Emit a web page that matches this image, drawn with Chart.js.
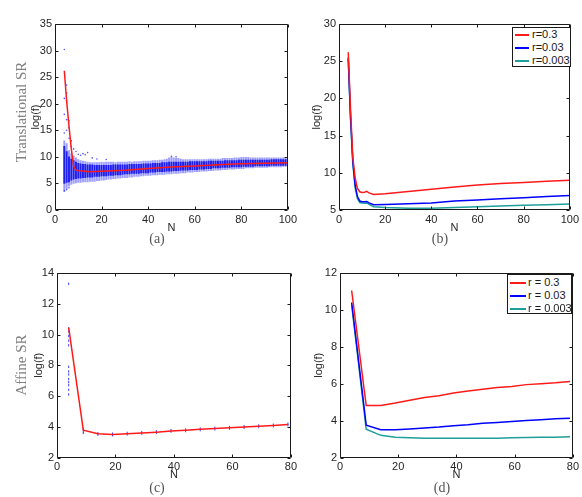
<!DOCTYPE html>
<html><head><meta charset="utf-8">
<script src="https://cdn.jsdelivr.net/npm/chart.js@4.4.1/dist/chart.umd.min.js"></script>
<style>
html,body{margin:0;padding:0;background:#fff;}
#wrap{position:relative;width:582px;height:497px;overflow:hidden;background:#fff;}
canvas{position:absolute;}
.cap{position:absolute;font-family:"Liberation Serif","Times New Roman",serif;font-size:14px;color:#555;transform:translate(-50%,-50%);white-space:nowrap;}
.row{position:absolute;font-family:"Liberation Serif","Times New Roman",serif;font-size:15px;color:#808080;transform:translate(-50%,-50%) rotate(-90deg);white-space:nowrap;}
.leg{position:absolute;border:1px solid #1a1a1a;background:#fff;font-family:"Liberation Sans",Arial,sans-serif;font-size:11px;color:#1a1a1a;box-sizing:border-box;}
.leg div{position:absolute;height:13px;line-height:13px;white-space:nowrap;}
.leg span.ln{position:absolute;top:6px;height:2px;}
</style></head>
<body><div id="wrap">
<canvas id="ca" width="300" height="236" style="left:0;top:0"></canvas>
<canvas id="cb" width="282" height="236" style="left:300px;top:0"></canvas>
<canvas id="cc" width="300" height="249" style="left:0;top:248px"></canvas>
<canvas id="cd" width="282" height="249" style="left:300px;top:248px"></canvas>
<div class="row" style="left:21px;top:112px">Translational SR</div>
<div class="row" style="left:21px;top:365px">Affine SR</div>
<div class="cap" style="left:157px;top:239px">(a)</div>
<div class="cap" style="left:440px;top:239px">(b)</div>
<div class="cap" style="left:157px;top:488px">(c)</div>
<div class="cap" style="left:442px;top:488px">(d)</div>
<div id="legb" class="leg" style="left:512px;top:27px;width:59px;height:40px"></div>
<div id="legd" class="leg" style="left:507px;top:274px;width:65px;height:40px"></div>
</div>
<script>
// ---------- Panel (a): Translational SR, scatter band + mean ----------
const aBandN = [4,5,6,7,8,9,10,11,12,13,14,15,16,17,18,19,20,21,22,23,24,25,26,27,28,29,30,31,32,33,34,35,36,37,38,39,40,41,42,43,44,45,46,47,48,49,50,51,52,53,54,55,56,57,58,59,60,61,62,63,64,65,66,67,68,69,70,71,72,73,74,75,76,77,78,79,80,81,82,83,84,85,86,87,88,89,90,91,92,93,94,95,96,97,98,99,100];
const aBandHigh = [13.0,12.5,11.2,10.6,10.2,9.8,9.5,9.3,9.2,9.1,9.0,8.9,8.9,8.9,8.9,8.9,9.0,8.9,9.0,9.0,9.0,9.0,8.9,9.0,9.0,9.0,9.0,9.0,9.1,9.0,9.1,9.1,9.1,9.1,9.2,9.2,9.2,9.2,9.3,9.3,9.3,9.4,9.4,9.5,9.6,9.8,9.9,9.8,9.7,9.7,9.6,9.5,9.5,9.5,9.5,9.5,9.5,9.5,9.5,9.5,9.5,9.5,9.6,9.6,9.6,9.6,9.6,9.6,9.7,9.7,9.7,9.7,9.7,9.8,9.8,9.8,9.9,9.9,9.9,9.9,9.8,9.8,9.8,9.8,9.8,9.8,9.8,9.8,9.8,9.8,9.8,9.8,9.8,9.8,9.8,9.8,9.8];
const aBandLow = [3.5,4.0,4.5,4.8,5.0,5.1,5.2,5.2,5.3,5.3,5.3,5.4,5.4,5.4,5.5,5.5,5.6,5.6,5.7,5.8,5.8,5.9,5.9,6.0,6.0,6.1,6.1,6.1,6.2,6.2,6.3,6.3,6.3,6.4,6.4,6.5,6.5,6.5,6.6,6.6,6.6,6.7,6.7,6.7,6.8,6.8,6.8,6.9,6.9,6.9,7.0,7.0,7.0,7.1,7.1,7.1,7.2,7.2,7.2,7.3,7.3,7.3,7.4,7.4,7.4,7.5,7.5,7.5,7.6,7.6,7.6,7.7,7.7,7.7,7.8,7.8,7.8,7.8,7.9,7.9,7.9,7.9,8.0,8.0,8.0,8.0,8.0,8.0,8.1,8.1,8.1,8.1,8.1,8.1,8.2,8.2,8.2];
const aCoreHigh = [12.0,11.0,10.0,9.6,9.3,9.0,8.8,8.7,8.6,8.6,8.5,8.5,8.5,8.4,8.4,8.4,8.4,8.4,8.4,8.4,8.4,8.5,8.5,8.5,8.5,8.5,8.5,8.5,8.6,8.6,8.6,8.6,8.6,8.6,8.7,8.7,8.7,8.7,8.8,8.8,8.8,8.8,8.9,8.9,8.9,9.0,9.0,9.0,9.0,9.0,9.0,9.0,9.0,9.0,9.1,9.1,9.1,9.1,9.1,9.1,9.1,9.1,9.2,9.2,9.2,9.2,9.2,9.2,9.2,9.3,9.3,9.3,9.3,9.3,9.3,9.4,9.4,9.4,9.4,9.4,9.4,9.4,9.4,9.4,9.4,9.4,9.4,9.4,9.4,9.5,9.5,9.5,9.5,9.5,9.5,9.5,9.5];
const aCoreLow = [5.0,5.2,5.3,5.6,5.8,5.9,6.0,6.0,6.1,6.1,6.2,6.2,6.2,6.3,6.3,6.3,6.4,6.4,6.4,6.5,6.5,6.5,6.6,6.6,6.6,6.7,6.8,6.8,6.8,6.9,6.9,6.9,6.9,7.0,7.0,7.0,7.0,7.1,7.1,7.1,7.2,7.2,7.2,7.2,7.3,7.3,7.3,7.4,7.4,7.4,7.5,7.5,7.5,7.5,7.6,7.6,7.6,7.6,7.7,7.7,7.7,7.8,7.8,7.8,7.9,7.9,7.9,7.9,8.0,8.0,8.0,8.0,8.1,8.1,8.1,8.1,8.1,8.2,8.2,8.2,8.2,8.2,8.3,8.3,8.3,8.3,8.3,8.3,8.3,8.4,8.4,8.4,8.4,8.4,8.4,8.4,8.4];
const aOutN = [4,5,5,5,4,4,5,6,6,5,4,6,7,7,8,9,10,11,12,13,14,16,18,22,6,5,4,50,52];
const aOutY = [30.2,23.5,22.0,20.5,21.0,18.0,17.0,16.8,15.5,15.0,14.5,13.5,13.0,12.0,11.5,11.0,10.5,10.3,10.6,10.4,10.8,9.8,9.6,9.5,4.2,3.8,3.6,10.1,10.0];
const aMeanN = [4,5,6,7,8,9,10,12,15,20,30,40,50,60,70,80,90,100];
const aMean = [26.2,20.5,15.8,11.5,8.2,7.5,7.4,7.35,7.2,7.3,7.5,7.8,8.1,8.3,8.5,8.7,8.8,8.9];

// ---------- Panel (b) ----------
const bN = [4,5,6,7,8,9,10,11,12,13,15,20,30,40,50,60,70,80,90,100];
const bLabels = ['r=0.3','r=0.03','r=0.003'];
const bRed  = [26.2,18.5,12.0,9.3,7.9,7.45,7.35,7.4,7.5,7.3,7.1,7.2,7.5,7.8,8.1,8.35,8.55,8.7,8.85,9.0];
const bBlue = [25.5,17.5,11.5,8.3,6.8,6.2,6.1,6.1,6.15,5.95,5.7,5.75,5.85,5.95,6.2,6.35,6.5,6.65,6.8,6.95];
const bTeal = [25.3,17.2,11.2,8.0,6.5,6.0,5.95,5.9,5.95,5.75,5.45,5.35,5.25,5.25,5.35,5.45,5.55,5.65,5.7,5.8];

// ---------- Panel (c): Affine SR ----------
const cN = [4,9,14,19,24,29,34,39,44,49,54,59,64,69,74,79];
const cMean = [10.45,3.78,3.55,3.5,3.55,3.6,3.65,3.72,3.77,3.83,3.88,3.93,3.98,4.03,4.08,4.15];
const cPtN = [4,4,4,4,4,4,4,4,4,4,4,4,4,4,9,9,9,14,14,19,19,24,24,29,29,34,34,39,39,44,44,49,49,54,54,59,59,64,64,69,69,74,74,79,79];
const cPtY = [13.3,10.4,10.2,9.9,9.6,9.3,7.9,7.6,7.4,7.1,6.9,6.7,6.4,6.1,3.6,3.7,3.85,3.48,3.58,3.45,3.55,3.5,3.6,3.55,3.65,3.6,3.7,3.68,3.78,3.72,3.82,3.78,3.88,3.83,3.93,3.88,3.98,3.93,4.03,3.98,4.08,4.03,4.13,4.1,4.2];

// ---------- Panel (d) ----------
const dN = [4,9,14,19,24,29,34,39,44,49,54,59,64,69,74,79];
const dLabels = ['r = 0.3','r = 0.03','r = 0.003'];
const dRed  = [11.05,4.82,4.82,4.95,5.1,5.25,5.35,5.5,5.6,5.7,5.8,5.85,5.95,6.0,6.05,6.12];
const dBlue = [10.4,3.75,3.5,3.5,3.55,3.6,3.65,3.72,3.77,3.85,3.9,3.95,4.0,4.05,4.1,4.13];
const dTeal = [10.3,3.53,3.2,3.1,3.07,3.05,3.05,3.05,3.05,3.05,3.05,3.07,3.08,3.1,3.1,3.12];

const RED = '#ff1a1a', BLUE = '#0000ff', TEAL = '#1f9f9a';
const FONT = {family:'"Liberation Sans", Arial, sans-serif', size:11};
const TXT = '#262626';

const zip = (xs, ys) => xs.map((x, i) => ({x, y: ys[i]}));
const zipRange = (xs, lo, hi) => xs.map((x, i) => ({x, y: [lo[i], hi[i]]}));

const framePlugin = {
  id: 'frame',
  afterDraw(chart) {
    const {ctx, chartArea: a, scales: {x, y}} = chart;
    const L = Math.round(a.left) + 0.5, R = Math.round(a.right) - 0.5;
    const T = Math.round(a.top) + 0.5, B = Math.round(a.bottom) - 0.5;
    ctx.save();
    ctx.strokeStyle = '#1a1a1a';
    ctx.lineWidth = 1;
    ctx.beginPath();
    ctx.rect(L, T, R - L, B - T);
    const k = 3;
    x.ticks.forEach(t => {
      const p = Math.round(x.getPixelForValue(t.value)) + 0.5;
      ctx.moveTo(p, B); ctx.lineTo(p, B - k);
      ctx.moveTo(p, T); ctx.lineTo(p, T + k);
    });
    y.ticks.forEach(t => {
      const p = Math.round(y.getPixelForValue(t.value)) + 0.5;
      ctx.moveTo(L, p); ctx.lineTo(L + k, p);
      ctx.moveTo(R, p); ctx.lineTo(R - k, p);
    });
    ctx.stroke();
    ctx.restore();
  }
};

function makeChart(id, datasets, g) {
  return new Chart(document.getElementById(id), {
    type: 'line',
    data: {datasets},
    options: {
      responsive: false, animation: false, devicePixelRatio: 1, events: [],
      layout: {padding: {left: g.padL, top: g.padT, right: g.padR, bottom: g.padB}},
      plugins: {legend: {display: false}, tooltip: {enabled: false}},
      scales: {
        x: {type: 'linear', min: g.xmin, max: g.xmax, offset: false,
            grid: {display: false, drawTicks: false}, border: {display: false},
            ticks: {stepSize: g.xstep, padding: 3, font: FONT, color: TXT, maxRotation: 0, autoSkip: false},
            title: {display: true, text: 'N', font: FONT, color: TXT, padding: 0},
            afterFit: s => { s.height = g.xh; }},
        y: {type: 'linear', min: g.ymin, max: g.ymax,
            grid: {display: false, drawTicks: false}, border: {display: false},
            ticks: {stepSize: g.ystep, padding: 3, font: FONT, color: TXT, autoSkip: false},
            title: {display: true, text: 'log(f)', font: FONT, color: TXT, padding: 0},
            afterFit: s => { s.width = g.yw; }}
      }
    },
    plugins: [framePlugin]
  });
}

const lineDs = (pts, color, order) => ({type: 'line', data: pts, borderColor: color, backgroundColor: color,
  borderWidth: 1.5, pointRadius: 0, tension: 0, fill: false, order});

// (a)
makeChart('ca', [
  lineDs(zip(aMeanN, aMean), RED, 0),
  {type: 'scatter', data: zip(aOutN, aOutY), pointRadius: 0.8, pointBorderWidth: 0, backgroundColor: 'rgba(40,40,255,0.8)', order: 1},
  {type: 'bar', data: zipRange(aBandN, aCoreLow, aCoreHigh), backgroundColor: 'rgba(10,10,235,0.85)', borderWidth: 0, barThickness: 1.3, grouped: false, order: 2},
  {type: 'bar', data: zipRange(aBandN, aBandLow, aBandHigh), backgroundColor: 'rgba(60,60,255,0.5)', borderWidth: 0, barThickness: 1.3, grouped: false, order: 3}
], {padL: 29, padT: 24, padR: 10, padB: 1, yw: 26, xh: 25, xmin: 0, xmax: 100, xstep: 20, ymin: 0, ymax: 35, ystep: 5});

// (b)
makeChart('cb', [
  lineDs(zip(bN, bTeal), TEAL, 2),
  lineDs(zip(bN, bBlue), BLUE, 1),
  lineDs(zip(bN, bRed), RED, 0)
], {padL: 10, padT: 24, padR: 9, padB: 1, yw: 29, xh: 25, xmin: 0, xmax: 100, xstep: 20, ymin: 5, ymax: 30, ystep: 5});

// (c)
makeChart('cc', [
  lineDs(zip(cN, cMean), RED, 0),
  {type: 'scatter', data: zip(cPtN, cPtY), pointStyle: 'line', rotation: 90, pointRadius: 1.2, borderWidth: 1, borderColor: 'rgba(30,30,255,0.85)', order: 1}
], {padL: 32, padT: 25, padR: 9, padB: 15, yw: 25, xh: 24.5, xmin: 0, xmax: 80, xstep: 20, ymin: 2, ymax: 14, ystep: 2});

// (d)
makeChart('cd', [
  lineDs(zip(dN, dTeal), TEAL, 2),
  lineDs(zip(dN, dBlue), BLUE, 1),
  lineDs(zip(dN, dRed), RED, 0)
], {padL: 12, padT: 25, padR: 8, padB: 15, yw: 28, xh: 24.5, xmin: 0, xmax: 80, xstep: 20, ymin: 2, ymax: 12, ystep: 2});

// HTML legends
function legend(id, labels, colors, lineW, textX, rowTop) {
  const el = document.getElementById(id);
  labels.forEach((lab, i) => {
    const row = document.createElement('div');
    row.style.left = '0px'; row.style.top = (rowTop + i * 13) + 'px'; row.style.width = '100%';
    const ln = document.createElement('span');
    ln.className = 'ln'; ln.style.left = '2px'; ln.style.width = lineW + 'px'; ln.style.background = colors[i];
    const tx = document.createElement('span');
    tx.style.position = 'absolute'; tx.style.left = textX + 'px'; tx.textContent = lab;
    row.appendChild(ln); row.appendChild(tx); el.appendChild(row);
  });
}
legend('legb', bLabels, [RED, BLUE, TEAL], 14, 19, 0);
legend('legd', dLabels, [RED, BLUE, TEAL], 16, 20, 1);
</script>
</body></html>
